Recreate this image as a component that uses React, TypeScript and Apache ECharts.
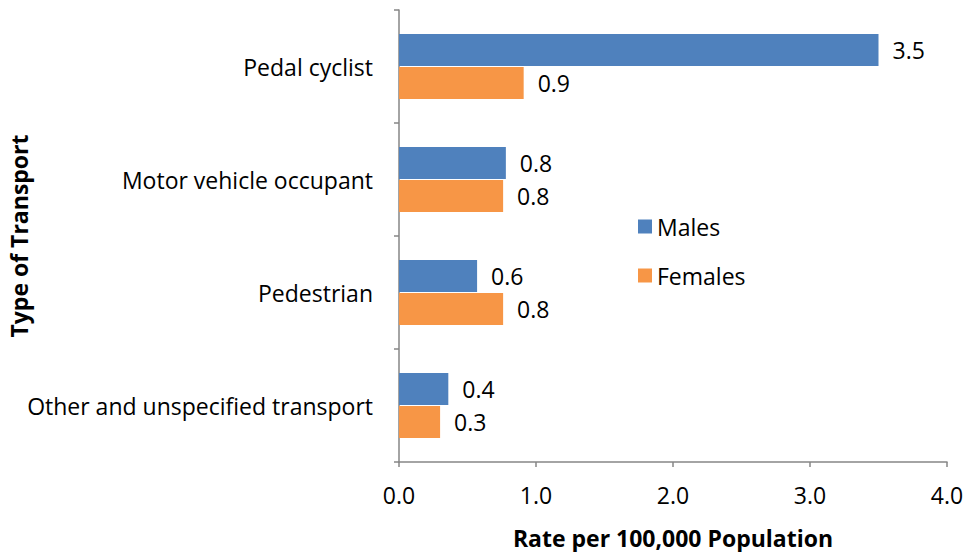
import React, { useEffect, useRef } from "react";
import * as echarts from "echarts";

const categories = [
  "Pedal cyclist",
  "Motor vehicle occupant",
  "Pedestrian",
  "Other and unspecified transport",
];
const males = [3.5, 0.78, 0.57, 0.36];
const females = [0.91, 0.76, 0.76, 0.3];
const xTicks = { min: 0, max: 4, interval: 1 };

const FONT = "'Open Sans', sans-serif";
const FS = 23;

export default function App() {
  const ref = useRef<HTMLDivElement>(null);
  useEffect(() => {
    if (!ref.current) return;
    const chart = echarts.init(ref.current, undefined, { renderer: "svg" });
    const label = {
      show: true,
      position: "right" as const,
      distance: 14,
      fontSize: FS,
      color: "#000",
      fontFamily: FONT,
      formatter: (p: any) => Number(p.value).toFixed(1),
    };
    chart.setOption({
      animation: false,
      textStyle: { fontFamily: FONT },
      grid: {
        left: 399,
        right: 21,
        top: 10,
        bottom: 90,
        containLabel: false,
        outerBoundsMode: "none",
      },
      legend: {
        orient: "vertical",
        left: 633,
        top: 210,
        itemWidth: 14,
        itemHeight: 14,
        itemGap: 26,
        icon: "rect",
        textStyle: { fontSize: FS, color: "#000", fontFamily: FONT, lineHeight: 22 },
        data: ["Males", "Females"],
      },
      xAxis: {
        type: "value",
        min: xTicks.min,
        max: xTicks.max,
        interval: xTicks.interval,
        splitLine: { show: false },
        axisLine: { show: true, lineStyle: { color: "#868686", width: 1.5 } },
        axisTick: { show: true, length: 5, lineStyle: { color: "#868686", width: 1.5 } },
        axisLabel: {
          fontSize: FS,
          color: "#000",
          margin: 21,
          fontFamily: FONT,
          formatter: (v: number) => v.toFixed(1),
        },
        name: "Rate per 100,000 Population",
        nameLocation: "middle",
        nameGap: 64,
        nameMoveOverlap: false,
        nameTextStyle: { fontSize: FS, fontWeight: "bold", color: "#000", fontFamily: FONT },
      },
      yAxis: {
        type: "category",
        data: categories,
        inverse: true,
        axisLine: { show: true, lineStyle: { color: "#868686", width: 1.5 } },
        axisTick: { show: true, length: 5, lineStyle: { color: "#868686", width: 1.5 } },
        axisLabel: { fontSize: FS, color: "#000", margin: 26, fontFamily: FONT },
        name: "Type of Transport",
        nameLocation: "middle",
        nameGap: 369,
        nameMoveOverlap: false,
        nameRotate: 90,
        nameTextStyle: { fontSize: FS, fontWeight: "bold", color: "#000", fontFamily: FONT },
      },
      series: [
        {
          name: "Males",
          type: "bar",
          data: males,
          barWidth: 32,
          barGap: "3%",
          itemStyle: { color: "#4F81BD" },
          label,
        },
        {
          name: "Females",
          type: "bar",
          data: females,
          barWidth: 32,
          barGap: "3%",
          itemStyle: { color: "#F79646" },
          label,
        },
      ],
    });
    return () => chart.dispose();
  }, []);
  return (
    <div
      ref={ref}
      style={{ position: "fixed", left: 0, top: 0, width: 968, height: 552, background: "#fff" }}
    />
  );
}
